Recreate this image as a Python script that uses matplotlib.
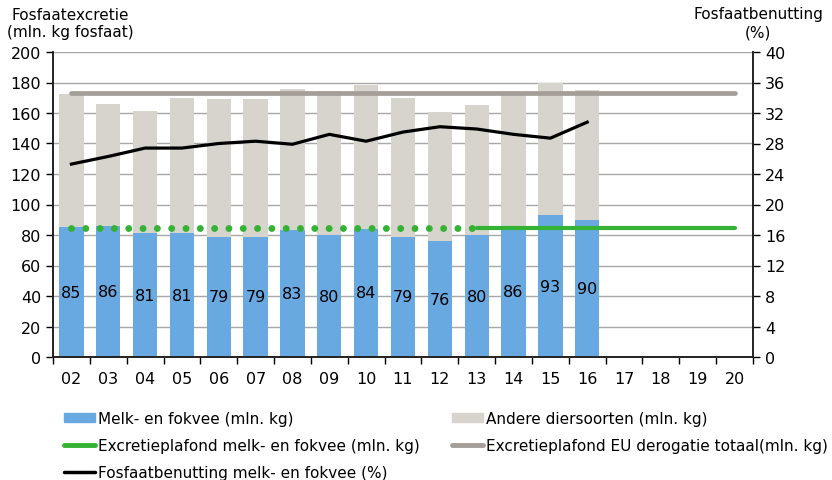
import numpy as np
import matplotlib
matplotlib.use("Agg")
import matplotlib.pyplot as plt
from matplotlib.lines import Line2D
from matplotlib.patches import Patch

years = ["02","03","04","05","06","07","08","09","10","11","12","13","14","15","16","17","18","19","20"]
melk = [85, 86, 81, 81, 79, 79, 83, 80, 84, 79, 76, 80, 86, 93, 90]
totaal = [172.5, 166, 161.5, 170, 169, 169.5, 176, 174.5, 178.5, 170, 160.5, 165.5, 173, 180, 175]
andere = [t - m for t, m in zip(totaal, melk)]
benutting = [25.3, 26.3, 27.4, 27.4, 28.0, 28.3, 27.9, 29.2, 28.3, 29.5, 30.2, 29.9, 29.2, 28.7, 30.8]
plafond_melk = 84.9
plafond_eu = 172.9

BLUE = "#69a9e1"
LGRAY = "#d6d4cd"
EUGRAY = "#a59e98"
GREEN = "#33b233"

plt.rcParams['font.family'] = ['DejaVu Sans']
fig = plt.figure(figsize=(8.32, 4.81), dpi=100)
ax = fig.add_axes([53/832, 1-358/481, 700/832, 305/481])
ax2 = ax.twinx()

x = np.arange(len(years))
xb = x[:len(melk)]
ax.bar(xb, melk, width=0.66, color=BLUE, zorder=2)
ax.bar(xb, andere, bottom=melk, width=0.66, color=LGRAY, zorder=2)
for xi, v in zip(xb, melk):
    ax.text(xi, v / 2, str(v), ha='center', va='center', fontsize=11.5, zorder=5)

ax.plot([0, 18], [plafond_eu]*2, color=EUGRAY, lw=3.4, solid_capstyle='round', zorder=3)
ax.plot([0, 11], [plafond_melk]*2, color=GREEN, lw=5.0, linestyle=(0, (0.001, 2.06)),
        dash_capstyle='round', zorder=3)
ax.plot([11, 18], [plafond_melk]*2, color=GREEN, lw=3.0, solid_capstyle='round', zorder=3)

ax2.plot(xb, benutting, color='black', lw=2.3, zorder=4)

ax.set_xlim(-0.5, 18.5)
ax.set_ylim(0, 200)
ax2.set_ylim(0, 40)
ax.set_yticks(np.arange(0, 201, 20))
ax2.set_yticks(np.arange(0, 41, 4))
ax.grid(axis='y', color='#a8a8a8', lw=1.0, zorder=0)
ax.set_axisbelow(True)

ax.set_xticks(np.arange(-0.5, 19, 1))
ax.set_xticklabels([])
ax.set_xticks(x, minor=True)
ax.set_xticklabels(years, minor=True, fontsize=11.5)
ax.tick_params(axis='x', which='minor', length=0, pad=10)
ax.tick_params(axis='x', which='major', length=5, direction='out', width=1)
ax.tick_params(axis='y', labelsize=11.5, length=5, width=1)
ax2.tick_params(axis='y', labelsize=11.5, length=5, width=1)

for a in (ax, ax2):
    a.spines['top'].set_visible(False)
    for s in ('left', 'right', 'bottom'):
        a.spines[s].set_color('#222222')
        a.spines[s].set_linewidth(1.2)

fig.text(70/832, 1-24/481, "Fosfaatexcretie\n(mln. kg fosfaat)", ha='center', va='center',
         fontsize=11, linespacing=1.25)
fig.text(758/832, 1-24/481, "Fosfaatbenutting\n(%)", ha='center', va='center',
         fontsize=11, linespacing=1.25)

h1 = [Patch(color=BLUE),
      Line2D([], [], color=GREEN, lw=3.5, solid_capstyle='round'),
      Line2D([], [], color='black', lw=2.5, solid_capstyle='round')]
l1 = ["Melk- en fokvee (mln. kg)",
      "Excretieplafond melk- en fokvee (mln. kg)",
      "Fosfaatbenutting melk- en fokvee (%)"]
h2 = [Patch(color=LGRAY),
      Line2D([], [], color=EUGRAY, lw=3.5, solid_capstyle='round')]
l2 = ["Andere diersoorten (mln. kg)",
      "Excretieplafond EU derogatie totaal(mln. kg)"]
kw = dict(frameon=False, fontsize=11, handlelength=2.0, handletextpad=0.2,
          labelspacing=0.8, borderpad=0, borderaxespad=0, handleheight=0.6)
fig.legend(h1, l1, loc='upper left', bbox_to_anchor=(64/832, 1-412/481), **kw)
fig.legend(h2, l2, loc='upper left', bbox_to_anchor=(452/832, 1-412/481), **kw)

fig.savefig("out.png", dpi=100)
